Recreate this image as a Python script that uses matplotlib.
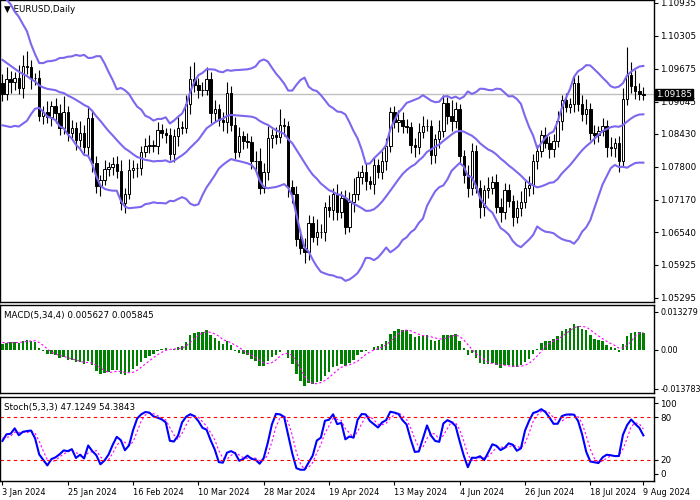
import numpy as np
import pandas as pd
import matplotlib

matplotlib.use('Agg')
import matplotlib.pyplot as plt

# closes before the visible window (warm-up for the indicators)
pre_close = [1.0720, 1.0730, 1.0740, 1.0730, 1.0750, 1.0760, 1.0750, 1.0770, 1.0780, 1.0790,
             1.0800, 1.0820, 1.0850, 1.0900,
             1.1040, 1.1060, 1.1050, 1.1070, 1.1040, 1.1060, 1.1050, 1.1070, 1.1040, 1.1030,
             1.0960, 1.0930, 1.0920, 1.0910, 1.0930, 1.0920, 1.0940, 1.0930, 1.0920, 1.0940]

# daily closes 3 Jan - 9 Aug 2024
close = [1.0920, 1.0948, 1.0942, 1.0950, 1.0930, 1.0973, 1.0970, 1.0950, 1.0950, 1.0877,
         1.0885, 1.0875, 1.0897, 1.0883, 1.0855, 1.0885, 1.0845, 1.0855, 1.0832, 1.0845,
         1.0818,
         1.0873, 1.0788, 1.0743, 1.0755, 1.0775, 1.0780, 1.0785, 1.0772, 1.0710, 1.0728,
         1.0773, 1.0777, 1.0777, 1.0808, 1.0820, 1.0822, 1.0820, 1.0850, 1.0845, 1.0840,
         1.0805,
         1.0838, 1.0855, 1.0855, 1.0900, 1.0947, 1.0937, 1.0927, 1.0927, 1.0948, 1.0882,
         1.0890, 1.0870, 1.0865, 1.0922, 1.0860, 1.0808, 1.0838, 1.0830, 1.0827, 1.0790,
         1.0790,
         1.0740, 1.0770, 1.0835, 1.0840, 1.0837, 1.0860, 1.0857, 1.0742, 1.0727, 1.0642,
         1.0624, 1.0617, 1.0673, 1.0645, 1.0655, 1.0655, 1.0703, 1.0697, 1.0728, 1.0693,
         1.0720, 1.0665,
         1.0712, 1.0728, 1.0760, 1.0770, 1.0752, 1.0747, 1.0783, 1.0770, 1.0790, 1.0820,
         1.0885, 1.0865, 1.0870, 1.0858, 1.0856, 1.0822, 1.0818, 1.0847, 1.0858, 1.0858,
         1.0802, 1.0833, 1.0848,
         1.0902, 1.0878, 1.0868, 1.0890, 1.0800, 1.0765, 1.0740, 1.0810, 1.0740, 1.0702,
         1.0735, 1.0740, 1.0750, 1.0702, 1.0693, 1.0735, 1.0715, 1.0683, 1.0700, 1.0713,
         1.0740, 1.0745, 1.0790, 1.0810, 1.0840, 1.0825, 1.0813, 1.0830, 1.0868, 1.0908,
         1.0895, 1.0900, 1.0940, 1.0900, 1.0880, 1.0890, 1.0845, 1.0840, 1.0848, 1.0857,
         1.0818, 1.0815, 1.0825,
         1.0790, 1.0910, 1.0955, 1.0935, 1.0925, 1.0920, 1.0918]

# wick lengths in pips above / below the body
wick_up = [18, 22, 15, 12, 25, 20, 28, 14, 10, 16, 12, 20, 9, 14, 18, 30, 12, 15, 10, 22,
           14, 24, 16, 12, 10, 18, 9, 14, 16, 20, 12, 22, 15, 10, 12, 14, 18, 9, 16, 12,
           10, 15, 14, 20, 12, 18, 25, 34, 12, 16, 22, 14, 18, 10, 15, 20, 12, 16, 18, 10,
           14, 12, 20, 25, 18, 22, 12, 16, 30, 14, 10, 12, 16, 18, 20, 14, 12, 25, 16, 10,
           22, 12, 18, 14, 16, 20, 30, 12, 14, 18, 10, 16, 12, 20, 14, 10, 12, 18, 15, 14,
           10, 12, 16, 20, 14, 12, 10, 22, 16, 12, 30, 14, 10, 12, 18, 16, 12, 14, 10, 20,
           12, 16, 18, 14, 12, 10, 16, 20, 12, 18, 14, 12, 10, 16, 14, 12, 18, 10, 14, 12,
           14, 16, 18, 20, 12, 14, 10, 16, 12, 18, 10, 14, 20, 54, 25, 30, 15, 12]
wick_dn = [14, 12, 20, 16, 10, 18, 12, 22, 14, 10, 16, 12, 18, 20, 14, 12, 16, 10, 20, 14,
           12, 16, 18, 14, 20, 10, 12, 16, 14, 12, 18, 10, 14, 16, 12, 10, 14, 12, 16, 10,
           14, 12, 16, 18, 12, 10, 20, 14, 16, 12, 10, 18, 14, 12, 16, 20, 12, 14, 10, 16,
           12, 14, 18, 12, 10, 16, 20, 14, 12, 18, 20, 16, 14, 12, 22, 16, 10, 14, 12, 18,
           14, 20, 16, 12, 14, 10, 18, 12, 14, 16, 10, 20, 12, 14, 16, 12, 10, 18, 14, 12,
           16, 20, 14, 12, 10, 16, 14, 18, 12, 16, 20, 14, 12, 16, 18, 14, 10, 20, 16, 14,
           12, 10, 18, 14, 12, 16, 10, 14, 12, 16, 18, 14, 12, 10, 16, 14, 12, 18, 10, 12,
           16, 14, 12, 18, 14, 16, 12, 10, 20, 14, 16, 20, 10, 12, 14, 16, 12, 10]

date_labels = ['3 Jan 2024', '25 Jan 2024', '16 Feb 2024', '10 Mar 2024', '28 Mar 2024',
               '19 Apr 2024', '13 May 2024', '4 Jun 2024', '26 Jun 2024', '18 Jul 2024',
               '9 Aug 2024']
date_pos = [0, 16, 32, 48, 64, 80, 96, 112, 128, 144, 157]
price_ticks = [1.10935, 1.10305, 1.09675, 1.09045, 1.08430, 1.07800, 1.07170,
               1.06540, 1.05925, 1.05295]
last_price = 1.09185

close = np.array(close)
n = len(close)
opens = np.r_[pre_close[-1], close[:-1]]
highs = np.maximum(opens, close) + np.array(wick_up) / 10000
lows = np.minimum(opens, close) - np.array(wick_dn) / 10000
x = np.arange(n)

# indicators
allc = pd.Series(np.r_[pre_close, close])
npre = len(pre_close)
mid = allc.rolling(20).mean()
sd = allc.rolling(20).std(ddof=0)
upper = (mid + 2 * sd).values[npre:]
lower = (mid - 2 * sd).values[npre:]
mid = mid.values[npre:]

macd = (allc.ewm(span=5, adjust=False).mean() - allc.ewm(span=34, adjust=False).mean())
signal = macd.rolling(4).mean().values[npre:]
macd = macd.values[npre:]

allh = pd.Series(np.r_[np.array(pre_close) + 0.004, highs])
alll = pd.Series(np.r_[np.array(pre_close) - 0.004, lows])
hh = allh.rolling(5).max()
ll = alll.rolling(5).min()
k = 100 * (allc - ll).rolling(3).sum() / (hh - ll).rolling(3).sum()
d = k.rolling(3).mean()
k = k.values[npre:]
d = d.values[npre:]

fig = plt.figure(figsize=(7, 5), dpi=100)
plt.rcParams['font.family'] = ['DejaVu Sans']
fs = 6.3
aw = 654 / 700
ax1 = fig.add_axes([0, 0.396, aw, 0.604])
ax2 = fig.add_axes([0, 0.214, aw, 0.176])
ax3 = fig.add_axes([0, 0.038, aw, 0.168])

for ax in (ax1, ax2, ax3):
    ax.set_xlim(-0.6, 159.6)
    ax.set_xticks([])
    ax.yaxis.tick_right()
    ax.tick_params(axis='y', labelsize=fs, length=3, pad=1.5)
    for s in ax.spines.values():
        s.set_linewidth(1)

# price panel
ax1.axhline(last_price, color='#c0c0c0', lw=1)
for i in range(n):
    ax1.vlines(x[i], lows[i], highs[i], color='black', lw=0.8, zorder=2)
    bull = close[i] >= opens[i]
    lo, hi = min(opens[i], close[i]), max(opens[i], close[i])
    ax1.bar(x[i], max(hi - lo, 0.00005), bottom=lo, width=0.6,
            color='white' if bull else 'black', edgecolor='black', lw=0.7, zorder=3)
for band in (upper, mid, lower):
    ax1.plot(x, band, color='#7b68ee', lw=1.5, zorder=4)
ax1.set_ylim(1.05209, 1.10992)
ax1.set_yticks(price_ticks)
ax1.set_yticklabels([f'{t:.5f}' for t in price_ticks])
ax1.text(1.003, (last_price - 1.05209) / (1.10992 - 1.05209), f'{last_price:.5f}',
         transform=ax1.transAxes, fontsize=fs, color='white', va='center', ha='left',
         bbox=dict(boxstyle='square,pad=0.15', fc='black', ec='black'))
ax1.text(0.006, 0.985, '\u25bc EURUSD,Daily', transform=ax1.transAxes, fontsize=fs,
         va='top', ha='left')

# MACD panel
ax2.bar(x, macd, width=0.6, color='#008000')
ax2.plot(x, signal, color='#ff00ff', lw=0.8, ls=(0, (2, 2)))
ax2.set_ylim(-0.0152, 0.0157)
ax2.set_yticks([0.013279, 0.0, -0.013783])
ax2.set_yticklabels(['0.013279', '0.00', '-0.013783'], fontsize=5.8)
ax2.text(0.006, 0.93, 'MACD(5,34,4) 0.005627 0.005845', transform=ax2.transAxes,
         fontsize=fs, va='top', ha='left')

# Stochastic panel
ax3.plot(x, d, color='#ff00ff', lw=0.8, ls=(0, (2, 2)))
ax3.plot(x, k, color='#0000ff', lw=1.5)
for lv in (20, 80):
    ax3.axhline(lv, color='red', lw=0.8, ls=(0, (3, 3)))
ax3.set_ylim(-9.9, 108.5)
ax3.set_yticks([100, 80, 20, 0])
ax3.text(0.006, 0.93, 'Stoch(5,3,3) 47.1249 54.3843', transform=ax3.transAxes,
         fontsize=fs, va='top', ha='left')
ax3.set_xticks(date_pos)
ax3.set_xticklabels(date_labels, fontsize=5.9, ha='left')
ax3.tick_params(axis='x', length=3, pad=2)

fig.savefig('out.png', dpi=100, facecolor='white')
